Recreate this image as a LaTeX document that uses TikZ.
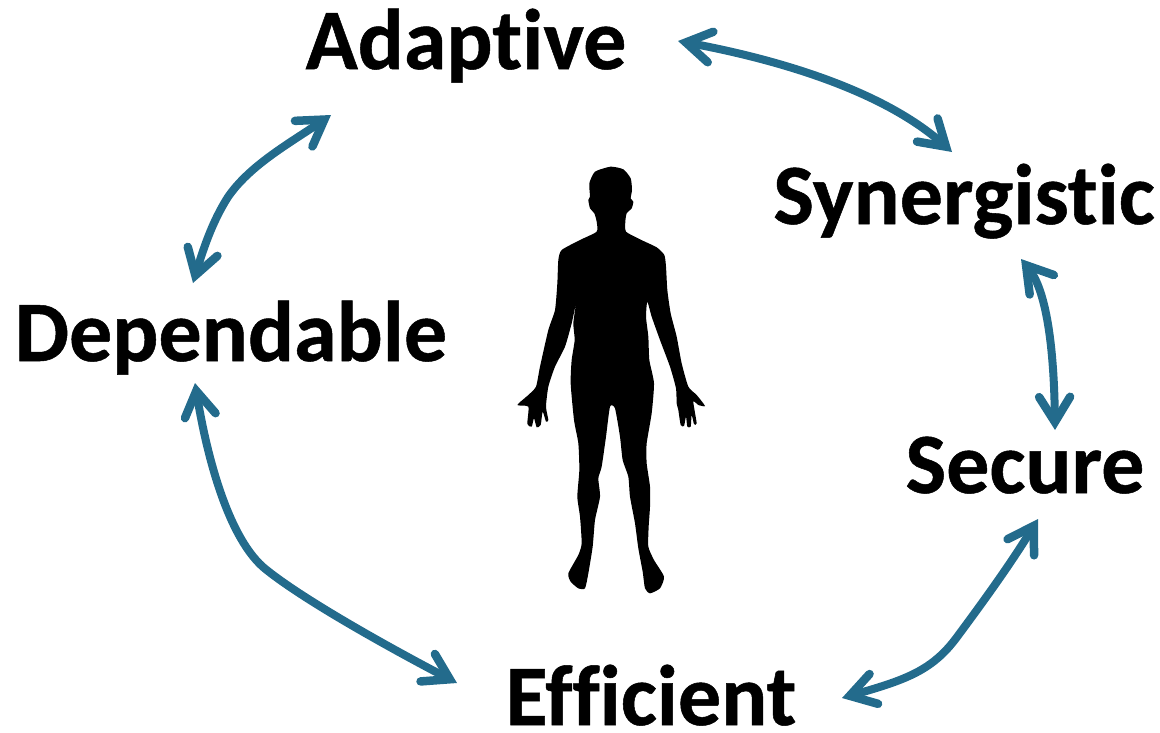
\documentclass[tikz,border=0pt]{standalone}
\usepackage{fontspec}
\setmainfont[Ligatures=NoCommon, BoldFeatures={FakeBold=0.6}]{Carlito}
\usetikzlibrary{arrows.meta}

\definecolor{linkblue}{HTML}{236B8C}

\begin{document}
\begin{tikzpicture}[
    x=1pt, y=-1pt,
    attribute/.style={inner sep=0pt, anchor=base, font=\fontsize{86}{90}\selectfont\bfseries},
    link/.style={line width=8pt, draw=linkblue, {Straight Barb[length=25pt, width=31pt, line width=8.5pt, line cap=round, line join=miter]}-{Straight Barb[length=25pt, width=31pt, line width=8.5pt, line cap=round, line join=miter]}}
]
    \useasboundingbox (0,0) rectangle (1160,732);

    \node[attribute] (adaptive) at (466,69) {Adaptive};
    \node[attribute] (synergistic) at (964,224) {Synergistic};
    \node[attribute] (dependable) at (231,361) {Dependable};
    \node[attribute] (secure) at (1025,493) {Secure};
    \node[attribute] (efficient) at (651,725) {Efficient};

    \draw[link] ([shift={(212,-28)}]adaptive.base) .. controls (770,58) and (880,88) .. ([shift={(-12,-72)}]synergistic.base);
    \draw[link] ([shift={(57,35)}]synergistic.base) .. controls (1046,290) and (1054,345) .. ([shift={(30,-63)}]secure.base);
    \draw[link] ([shift={(13,26)}]secure.base) .. controls (1010,565) and (980,606) .. (957,637) .. controls (932,671) and (905,680) .. ([shift={(191,-27)}]efficient.base);
    \draw[link] ([shift={(-194,-42)}]efficient.base) .. controls (390,648) and (300,598) .. (263,567) .. controls (225,533) and (205,445) .. ([shift={(-36,22)}]dependable.base);
    \draw[link] ([shift={(-38,-78)}]dependable.base) .. controls (203,250) and (212,222) .. (228,197) .. controls (250,165) and (290,143) .. ([shift={(-135,46)}]adaptive.base);

    % figure in the middle
    \begin{scope}[shift={(500,150)}, x=1/3*1pt, y=-1/3*1pt]
        \fill[black] plot[smooth cycle, tension=0.35] coordinates {
            (332,50) (370,58) (392,85) (396,120) (392,145) (400,155) (395,175) (380,190) (376,215) (378,245)
            (420,268) (470,292) (493,315) (498,350) (502,420) (512,490) (530,560) (545,640) (565,710) (590,735)
            (615,768) (595,765) (580,755) (590,820) (582,822) (575,795) (572,830) (562,830) (558,800) (552,828)
            (542,825) (535,780) (530,760) (528,715) (510,650) (480,570) (455,500) (442,455) (438,500) (445,560)
            (448,630) (462,700) (455,790) (440,880) (440,940) (450,1010) (450,1070) (446,1130) (445,1190) (462,1230)
            (492,1280) (480,1315) (450,1330) (435,1315) (428,1265) (415,1195) (405,1120) (390,1040) (385,980) (368,930)
            (360,860) (345,775) (330,770) (318,860) (305,950) (295,985) (300,1040) (285,1110) (278,1190) (265,1270)
            (255,1315) (235,1315) (212,1295) (205,1270) (235,1215) (245,1180) (240,1100) (232,1040) (238,960) (235,880)
            (222,810) (212,700) (215,630) (224,570) (220,520) (228,460) (215,520) (195,590) (165,650) (145,710)
            (138,770) (145,810) (138,815) (128,785) (122,825) (110,832) (102,805) (95,830) (82,822) (85,770)
            (52,765) (85,735) (108,710) (120,650) (145,540) (165,480) (172,400) (175,330) (185,300) (240,270)
            (290,245) (290,215) (283,190) (270,175) (265,150) (270,140) (268,100) (285,65)
        };
    \end{scope}
\end{tikzpicture}
\end{document}
